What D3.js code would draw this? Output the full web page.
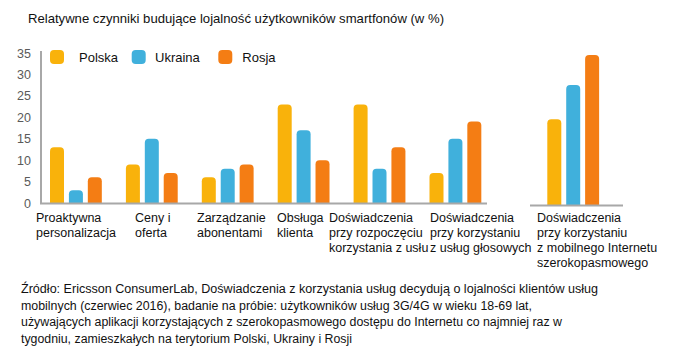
<!DOCTYPE html>
<html><head><meta charset="utf-8">
<script src="https://cdn.jsdelivr.net/npm/d3@7"></script>
<style>body{margin:0;background:#fff}svg{display:block;font-family:"Liberation Sans",Arial,sans-serif}</style>
</head><body>
<svg id="c" width="688" height="362"></svg>
<script>
const title = "Relatywne czynniki budujące lojalność użytkowników smartfonów (w %)";
const series = ["Polska", "Ukraina", "Rosja"];
const colors = ["#F9B20B", "#40B0DC", "#F47D14"];
const categories = [
  ["Proaktywna", "personalizacja"],
  ["Ceny i", "oferta"],
  ["Zarządzanie", "abonentami"],
  ["Obsługa", "klienta"],
  ["Doświadczenia", "przy rozpoczęciu", "korzystania z usłu"],
  ["Doświadczenia", "przy korzystaniu", "z usług głosowych"],
  ["Doświadczenia", "przy korzystaniu", "z mobilnego Internetu", "szerokopasmowego"]
];
const polska  = [13, 9, 6, 23, 23, 7, 20];
const ukraina = [3, 15, 8, 17, 8, 15, 28];
const rosja   = [6, 7, 9, 10, 13, 19, 35];
const yTicks = [0, 5, 10, 15, 20, 25, 30, 35];
const source = [
  "Źródło: Ericsson ConsumerLab, Doświadczenia z korzystania usług decydują o lojalności klientów usług",
  "mobilnych (czerwiec 2016), badanie na próbie: użytkowników usług 3G/4G w wieku 18-69 lat,",
  "używających aplikacji korzystających z szerokopasmowego dostępu do Internetu co najmniej raz w",
  "tygodniu, zamieszkałych na terytorium Polski, Ukrainy i Rosji"
];
const values = [polska, ukraina, rosja];

const svg = d3.select("#c");
const axisGray = "#A8A8A8";

svg.append("text").attr("x", 28).attr("y", 22.5).attr("font-size", 13).attr("fill", "#111")
  .attr("textLength", 416).attr("lengthAdjust", "spacingAndGlyphs").text(title);

const y = d3.scaleLinear().domain([0, 35]).range([203, 53]);
const y2 = d3.scaleLinear().domain([0, 35]).range([205, 55]);
const barX = d3.scaleBand().domain(series).range([0, 52]).paddingInner(0.25);

const ya = svg.append("g").attr("transform", "translate(41,0)")
  .call(d3.axisLeft(y).tickValues(yTicks).tickSize(0).tickPadding(10));
ya.select(".domain").remove();
ya.selectAll("text").attr("font-size", 12.5).attr("fill", "#5a5a5a").attr("font-family", "Liberation Sans, Arial, sans-serif");

function roundTop(x, yTop, w, yBase, r) {
  r = Math.min(r, (yBase - yTop));
  return `M${x},${yBase}V${yTop + r}Q${x},${yTop} ${x + r},${yTop}H${x + w - r}Q${x + w},${yTop} ${x + w},${yTop + r}V${yBase}Z`;
}

const gx = i => (i < 6 ? 50 + i * 75.9 : 547.3);
const ys = i => (i < 6 ? y : y2);

categories.forEach((cat, i) => {
  series.forEach((s, k) => {
    const sc = ys(i);
    const x0 = gx(i) + barX(s) - barX(series[0]);
    svg.append("path")
      .attr("d", roundTop(x0, sc(values[k][i]), 14, sc(0), 4))
      .attr("fill", colors[k]);
  });
});

svg.append("line").attr("x1", 41).attr("x2", 41).attr("y1", 51).attr("y2", 204).attr("stroke", axisGray).attr("stroke-width", 2);
svg.append("line").attr("x1", 40).attr("x2", 487).attr("y1", 203.5).attr("y2", 203.5).attr("stroke", axisGray).attr("stroke-width", 2);
svg.append("line").attr("x1", 530).attr("x2", 623).attr("y1", 205.5).attr("y2", 205.5).attr("stroke", axisGray).attr("stroke-width", 2);

const labelX = [36, 135, 197, 277, 329, 430, 537];
categories.forEach((lines, i) => {
  const t = svg.append("text").attr("x", labelX[i]).attr("y", 222).attr("font-size", 12.5).attr("fill", "#111");
  lines.forEach((l, j) => t.append("tspan").attr("x", labelX[i]).attr("dy", j === 0 ? 0 : 15).text(l));
});

const legX = [50, 131.7, 218.3];
const legTextX = [79, 155, 242.3];
series.forEach((s, k) => {
  svg.append("rect").attr("x", legX[k]).attr("y", 50).attr("width", 14).attr("height", 14).attr("rx", 4).attr("fill", colors[k]);
  svg.append("text").attr("x", legTextX[k]).attr("y", 61.5).attr("font-size", 13).attr("fill", "#111").text(s);
});

const sourceLen = [577, 511, 541, 331];
source.forEach((l, j) => {
  svg.append("text").attr("x", 21).attr("y", 293 + j * 16.7).attr("font-size", 12.5).attr("fill", "#111")
    .attr("textLength", sourceLen[j]).attr("lengthAdjust", "spacingAndGlyphs").text(l);
});
</script>
</body></html>
